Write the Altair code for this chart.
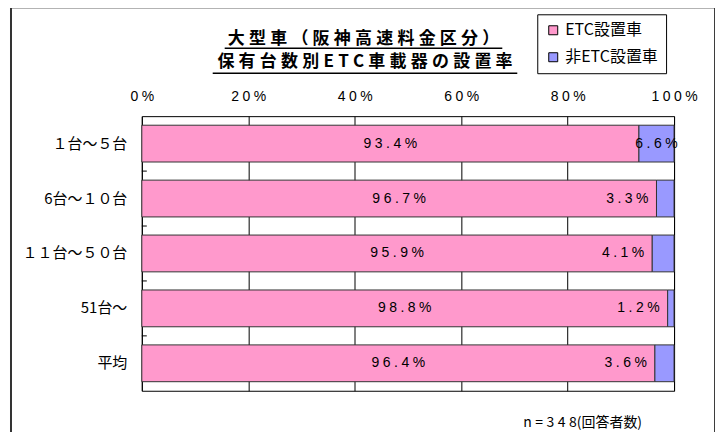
import altair as alt
import pandas as pd

# ---- data ----
categories = ["１台～５台", "6台～１０台", "１１台～５０台", "51台～", "平均"]
etc_share = [93.4, 96.7, 95.9, 98.8, 96.4]
non_etc_share = [6.6, 3.3, 4.1, 1.2, 3.6]
series_names = ["ETC設置車", "非ETC設置車"]
series_colors = ["#FF99CC", "#9999FF"]
x_ticks = [0, 0.2, 0.4, 0.6, 0.8, 1.0]
title_lines = ["大型車（阪神高速料金区分）", "保有台数別ETC車載器の設置率"]
note_text = "n=348(回答者数)"

SP = "\u2005"   # letter spacing for latin labels
SPT = "\u2005"  # letter spacing for title

wide = pd.DataFrame({"cat": categories, "etc": etc_share, "non": non_etc_share})
base = alt.Chart(wide)

W, H = 533, 275

y_bar = alt.Y(
    "cat:N", sort=categories, title=None,
    scale=alt.Scale(paddingInner=0.33, paddingOuter=0.165),
    axis=alt.Axis(ticks=False, domain=False, labelFont="Noto Sans CJK JP",
                  labelFontSize=15, labelColor="black", labelPadding=15),
)
y_plain = alt.Y("cat:N", sort=categories, title=None)

bars = base.transform_fold(["etc", "non"], as_=["key", "val"]).transform_calculate(
    series=f"datum.key == 'etc' ? '{series_names[0]}' : '{series_names[1]}'",
    ord="datum.key == 'etc' ? 0 : 1",
    frac="datum.val / 100",
).mark_bar(stroke="#333333", strokeWidth=1).encode(
    y=y_bar,
    x=alt.X(
        "frac:Q", stack="zero", title=None,
        scale=alt.Scale(domain=[0, 1], nice=False),
        axis=alt.Axis(orient="top", values=x_ticks, format=".0%",
                      labelExpr=f"join(split(datum.label, ''), '{SP}')",
                      ticks=False, domain=False, grid=True, gridColor="black",
                      gridOpacity=1, gridWidth=1, labelFont="Liberation Sans",
                      labelFontSize=14, labelColor="black", labelPadding=13,
                      labelFlush=False, labelOverlap=False),
    ),
    color=alt.Color(
        "series:N",
        scale=alt.Scale(domain=series_names, range=series_colors),
        legend=alt.Legend(title=None, orient="none", legendX=396, legendY=-102,
                          direction="vertical", symbolType="square", symbolSize=81,
                          symbolStrokeColor="black", symbolStrokeWidth=1,
                          labelFont="Noto Sans CJK JP", labelFontSize=16,
                          labelColor="black", labelOffset=4, rowPadding=11,
                          padding=8, strokeColor="black", fillColor="white",
                          labelLimit=300),
    ),
    order=alt.Order("ord:Q"),
)

# small inward ticks at the category boundaries
cat_ticks = base.transform_filter(f"datum.cat != '{categories[-1]}'").mark_rule(
    color="black", strokeWidth=1, yOffset=9.1
).encode(
    y=alt.Y("cat:N", sort=categories, title=None, bandPosition=1),
    x=alt.value(0), x2=alt.value(5),
)

lab_expr = f"join(split(format(datum.v, '.1f') + '%', ''), '{SP}')"
txt_props = dict(font="Liberation Sans", fontSize=14, color="black", baseline="middle")

etc_txt = base.transform_calculate(v="datum.etc", pos="datum.etc / 200").transform_calculate(
    lab=lab_expr
).mark_text(**txt_props).encode(
    y=y_plain, x=alt.X("pos:Q", title=None), text="lab:N"
)

non_big = base.transform_filter("datum.non >= 5").transform_calculate(
    v="datum.non", pos="(datum.etc + datum.non / 2) / 100"
).transform_calculate(lab=lab_expr).mark_text(**txt_props).encode(
    y=y_plain, x=alt.X("pos:Q", title=None), text="lab:N"
)

non_small = base.transform_filter("datum.non < 5").transform_calculate(
    v="datum.non", pos="datum.etc / 100"
).transform_calculate(lab=lab_expr).mark_text(align="right", dx=-8, **txt_props).encode(
    y=y_plain, x=alt.X("pos:Q", title=None), text="lab:N"
)

# outer frame (top, left, right)
one = alt.Chart(pd.DataFrame({"k": [0]}))
frame_top = one.mark_rule(color="black", strokeWidth=1).encode(
    x=alt.value(-132), x2=alt.value(574), y=alt.value(-108.5))
frame_left = one.mark_rule(color="#333333", strokeWidth=2).encode(
    x=alt.value(-131), y=alt.value(-109), y2=alt.value(330))
frame_right = one.mark_rule(color="#333333", strokeWidth=1.5).encode(
    x=alt.value(573.8), y=alt.value(-109), y2=alt.value(330))

# title (two lines, underlined)
title_df = pd.DataFrame({"t": title_lines, "line": [0, 1]})
title_props = dict(font="Noto Sans CJK JP", fontSize=17, fontWeight="bold",
                   color="black", align="center", baseline="middle")
t1 = alt.Chart(title_df).transform_filter("datum.line == 0").transform_calculate(
    s=f"join(split(datum.t, ''), '{SPT}')"
).mark_text(**title_props).encode(x=alt.value(222), y=alt.value(-77), text="s:N")
t2 = alt.Chart(title_df).transform_filter("datum.line == 1").transform_calculate(
    s=f"join(split(datum.t, ''), '{SPT}')"
).mark_text(**title_props).encode(x=alt.value(223.5), y=alt.value(-54), text="s:N")
u1 = one.mark_rule(color="black", strokeWidth=1.5).encode(
    x=alt.value(83), x2=alt.value(361), y=alt.value(-68))
u2 = one.mark_rule(color="black", strokeWidth=1.5).encode(
    x=alt.value(71), x2=alt.value(376), y=alt.value(-43))

note_expr = (
    f"join(split(slice(datum.t, 0, indexof(datum.t, '(')), ''), '{SP}')"
    " + slice(datum.t, indexof(datum.t, '('))"
)
note = alt.Chart(pd.DataFrame({"t": [note_text]})).transform_calculate(
    s=note_expr
).mark_text(
    font="Noto Sans CJK JP", fontSize=14, color="black", align="right", baseline="middle"
).encode(x=alt.value(501), y=alt.value(307), text="s:N")

chart = alt.layer(
    frame_top, frame_left, frame_right,
    bars, cat_ticks, etc_txt, non_big, non_small,
    t1, t2, u1, u2, note,
).properties(
    width=W, height=H,
    padding={"left": 134, "top": 108, "right": 41, "bottom": 41},
    autosize=alt.AutoSizeParams(type="none"),
    background="white",
).configure_view(stroke="black", strokeWidth=1)

chart.save("out.html", embed_options={"renderer": "svg", "actions": False})
